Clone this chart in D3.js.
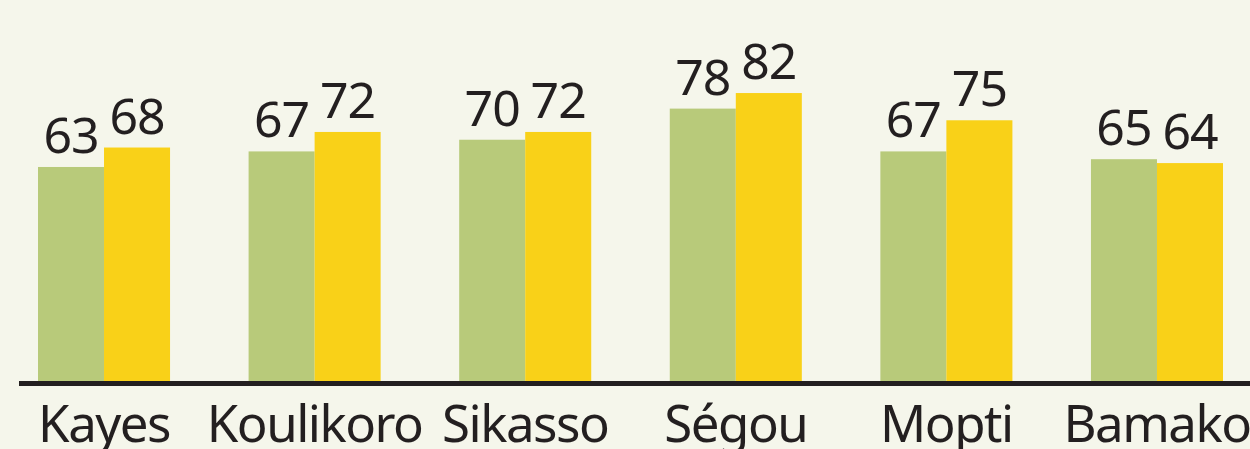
<!DOCTYPE html>
<html>
<head>
<meta charset="utf-8">
<script src="https://cdn.jsdelivr.net/npm/d3@7"></script>
<style>
  html, body { margin: 0; padding: 0; background: #f5f6eb; }
  svg { display: block; }
  text { font-family: "Noto Sans", "Open Sans", sans-serif; fill: #231f20; }
</style>
</head>
<body>
<svg id="chart" width="1250" height="449"></svg>
<script>
// data
var regions = ["Kayes", "Koulikoro", "Sikasso", "Ségou", "Mopti", "Bamako"];
var seriesA = [63, 67, 70, 78, 67, 65];
var seriesB = [68, 72, 72, 82, 75, 64];

var width = 1250, height = 449;
var baseY = 381;

var svg = d3.select("#chart");

var x = d3.scaleBand()
  .domain(regions)
  .range([38, 1223])
  .paddingInner(0.373)
  .paddingOuter(0);

var inner = d3.scaleBand()
  .domain(["a", "b"])
  .range([0, x.bandwidth()]);

var y = d3.scaleLinear()
  .domain([8, 100])
  .range([baseY, 23]);

var colors = { a: "#b8ca7a", b: "#f9d118" };

var rows = regions.map(function(r, i) {
  return { region: r, vals: [{ k: "a", v: seriesA[i] }, { k: "b", v: seriesB[i] }] };
});

var groups = svg.selectAll(".grp")
  .data(rows)
  .enter().append("g")
  .attr("class", "grp")
  .attr("transform", function(d) { return "translate(" + x(d.region) + ",0)"; });

groups.selectAll("rect")
  .data(function(d) { return d.vals; })
  .enter().append("rect")
  .attr("x", function(d) { return inner(d.k); })
  .attr("y", function(d) { return y(d.v); })
  .attr("width", inner.bandwidth())
  .attr("height", function(d) { return baseY - y(d.v); })
  .attr("fill", function(d) { return colors[d.k]; });

// value labels
groups.selectAll(".val")
  .data(function(d) { return d.vals; })
  .enter().append("text")
  .attr("class", "val")
  .attr("x", function(d) { return inner(d.k) + inner.bandwidth() / 2; })
  .attr("y", function(d) { return y(d.v) - 14; })
  .attr("text-anchor", "middle")
  .style("font-size", "50px")
  .style("letter-spacing", "-1px")
  .text(function(d) { return d.v; });

// baseline
svg.append("line")
  .attr("x1", 19).attr("x2", width)
  .attr("y1", baseY + 2.5).attr("y2", baseY + 2.5)
  .attr("stroke", "#231f20")
  .attr("stroke-width", 5);

// category labels (cut at the bottom edge, as in the original)
svg.selectAll(".cat")
  .data(regions)
  .enter().append("text")
  .attr("class", "cat")
  .attr("x", function(d) { return x(d) + x.bandwidth() / 2; })
  .attr("y", 442)
  .attr("text-anchor", "middle")
  .style("font-size", "51px")
  .style("letter-spacing", "-1.5px")
  .text(function(d) { return d; });
</script>
</body>
</html>
